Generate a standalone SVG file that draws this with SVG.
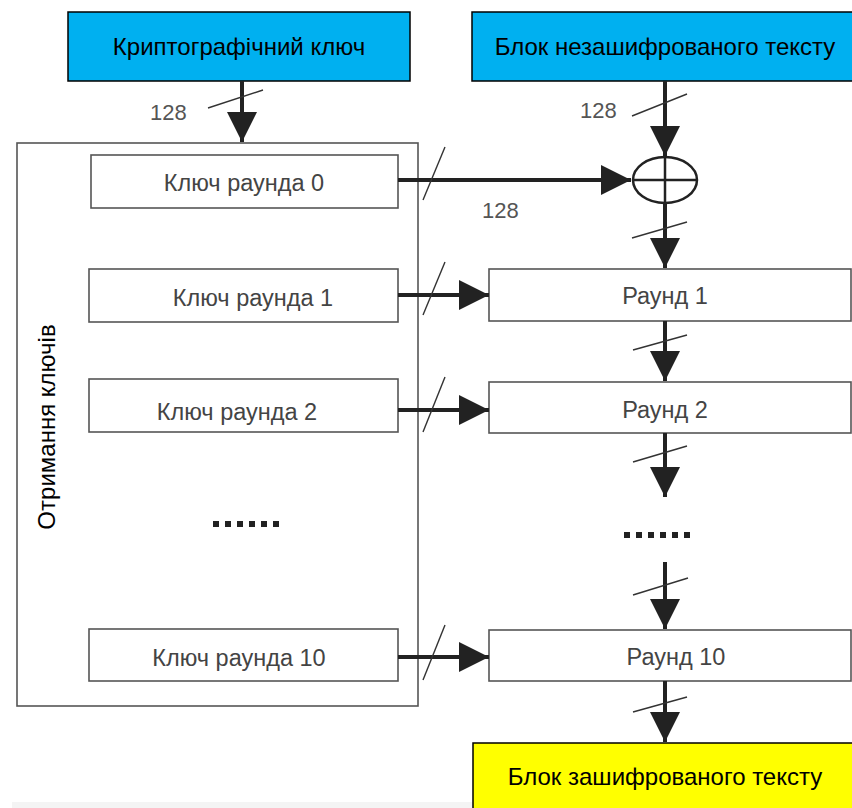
<svg xmlns="http://www.w3.org/2000/svg" width="852" height="808" viewBox="0 0 852 808">
<style>
.title{font-family:"Liberation Sans",Arial,sans-serif;font-size:24px;fill:#000;text-anchor:middle}
.lbl{font-family:"Liberation Sans",Arial,sans-serif;font-size:23.5px;fill:#444;text-anchor:middle}
.num{font-family:"Liberation Sans",Arial,sans-serif;font-size:22px;fill:#555}
.box{fill:#fff;stroke:#555;stroke-width:1.6}
.blue{fill:#00b0f0;stroke:#000;stroke-width:1.5}
.yel{fill:#ffff00;stroke:#000;stroke-width:1.5}
.w{stroke:#222;stroke-width:4;fill:none}
.sl{stroke:#333;stroke-width:1.4;fill:none}
.dots{stroke:#222;stroke-width:6;stroke-dasharray:6 6;fill:none}
</style>
<defs>
<marker id="ah" viewBox="0 0 10 10" refX="10" refY="5" markerWidth="7.5" markerHeight="7.5" markerUnits="strokeWidth" orient="auto">
<path d="M0,0 L10,5 L0,10 Z" fill="#222"/>
</marker>
</defs>
<rect width="852" height="808" fill="#fff"/>
<rect x="12" y="802" width="461" height="6" fill="#f4f4f4"/>

<g id="keygen">
<rect class="box" x="17" y="143" width="401" height="563"/>
<text class="title" transform="translate(55,427) rotate(-90)">Отримання ключів</text>
</g>

<g id="cryptokey">
<rect class="blue" x="68" y="12" width="342" height="69"/>
<text class="title" x="239" y="55">Криптографічний ключ</text>
</g>
<g id="plaintext">
<rect class="blue" x="472" y="12" width="384" height="69"/>
<text class="title" x="665" y="55">Блок незашифрованого тексту</text>
</g>
<g id="ciphertext">
<rect class="yel" x="473" y="743" width="384" height="70"/>
<text class="title" x="665" y="785">Блок зашифрованого тексту</text>
</g>

<g id="k0"><rect class="box" x="91" y="155" width="307" height="53"/><text class="lbl" x="244" y="191">Ключ раунда 0</text></g>
<g id="k1"><rect class="box" x="89" y="269" width="309" height="53"/><text class="lbl" x="253" y="306">Ключ раунда 1</text></g>
<g id="k2"><rect class="box" x="89" y="379" width="309" height="53"/><text class="lbl" x="237" y="420">Ключ раунда 2</text></g>
<g id="k10"><rect class="box" x="89" y="629" width="309" height="52"/><text class="lbl" x="239" y="666">Ключ раунда 10</text></g>

<g id="xor">
<ellipse cx="665" cy="180" rx="32" ry="23" fill="#fff" stroke="#222" stroke-width="2.5"/>
<line x1="633" y1="180" x2="697" y2="180" stroke="#222" stroke-width="2.5"/>
<line x1="665" y1="157" x2="665" y2="203" stroke="#222" stroke-width="2.5"/>
</g>

<g id="r1"><rect class="box" x="489" y="269" width="362" height="52"/><text class="lbl" x="665" y="304">Раунд 1</text></g>
<g id="r2"><rect class="box" x="489" y="382" width="362" height="51"/><text class="lbl" x="665" y="418">Раунд 2</text></g>
<g id="r10"><rect class="box" x="489" y="630" width="362" height="51"/><text class="lbl" x="676" y="665">Раунд 10</text></g>

<g id="dots-left"><line class="dots" x1="213" y1="524" x2="280" y2="524"/></g>
<g id="dots-right"><line class="dots" x1="624" y1="535" x2="690" y2="535"/></g>

<g id="connectors">
<line class="w" x1="242" y1="81" x2="242" y2="142" marker-end="url(#ah)"/>
<line class="sl" x1="208" y1="108" x2="263" y2="90"/>
<text class="num" x="150" y="120">128</text>

<line class="w" x1="665" y1="81" x2="665" y2="156" marker-end="url(#ah)"/>
<line class="sl" x1="632" y1="116" x2="687" y2="94"/>
<text class="num" x="580" y="118">128</text>

<line class="w" x1="398" y1="180" x2="631" y2="180" marker-end="url(#ah)"/>
<line class="sl" x1="423" y1="200" x2="445" y2="147"/>
<text class="num" x="482" y="218">128</text>

<line class="w" x1="665" y1="203" x2="665" y2="268" marker-end="url(#ah)"/>
<line class="sl" x1="632" y1="238" x2="687" y2="222"/>

<line class="w" x1="665" y1="321" x2="665" y2="381" marker-end="url(#ah)"/>
<line class="sl" x1="633" y1="350" x2="687" y2="335"/>

<line class="w" x1="665" y1="433" x2="665" y2="497" marker-end="url(#ah)"/>
<line class="sl" x1="633" y1="462" x2="687" y2="446"/>

<line class="w" x1="665" y1="562" x2="665" y2="629" marker-end="url(#ah)"/>
<line class="sl" x1="633" y1="595" x2="688" y2="578"/>

<line class="w" x1="665" y1="681" x2="665" y2="742" marker-end="url(#ah)"/>
<line class="sl" x1="633" y1="712" x2="687" y2="697"/>

<line class="w" x1="398" y1="295" x2="489" y2="295" marker-end="url(#ah)"/>
<line class="sl" x1="423" y1="315" x2="445" y2="262"/>
<line class="w" x1="398" y1="410" x2="489" y2="410" marker-end="url(#ah)"/>
<line class="sl" x1="423" y1="432" x2="445" y2="377"/>
<line class="w" x1="398" y1="657" x2="489" y2="657" marker-end="url(#ah)"/>
<line class="sl" x1="423" y1="680" x2="445" y2="625"/>
</g>
</svg>
